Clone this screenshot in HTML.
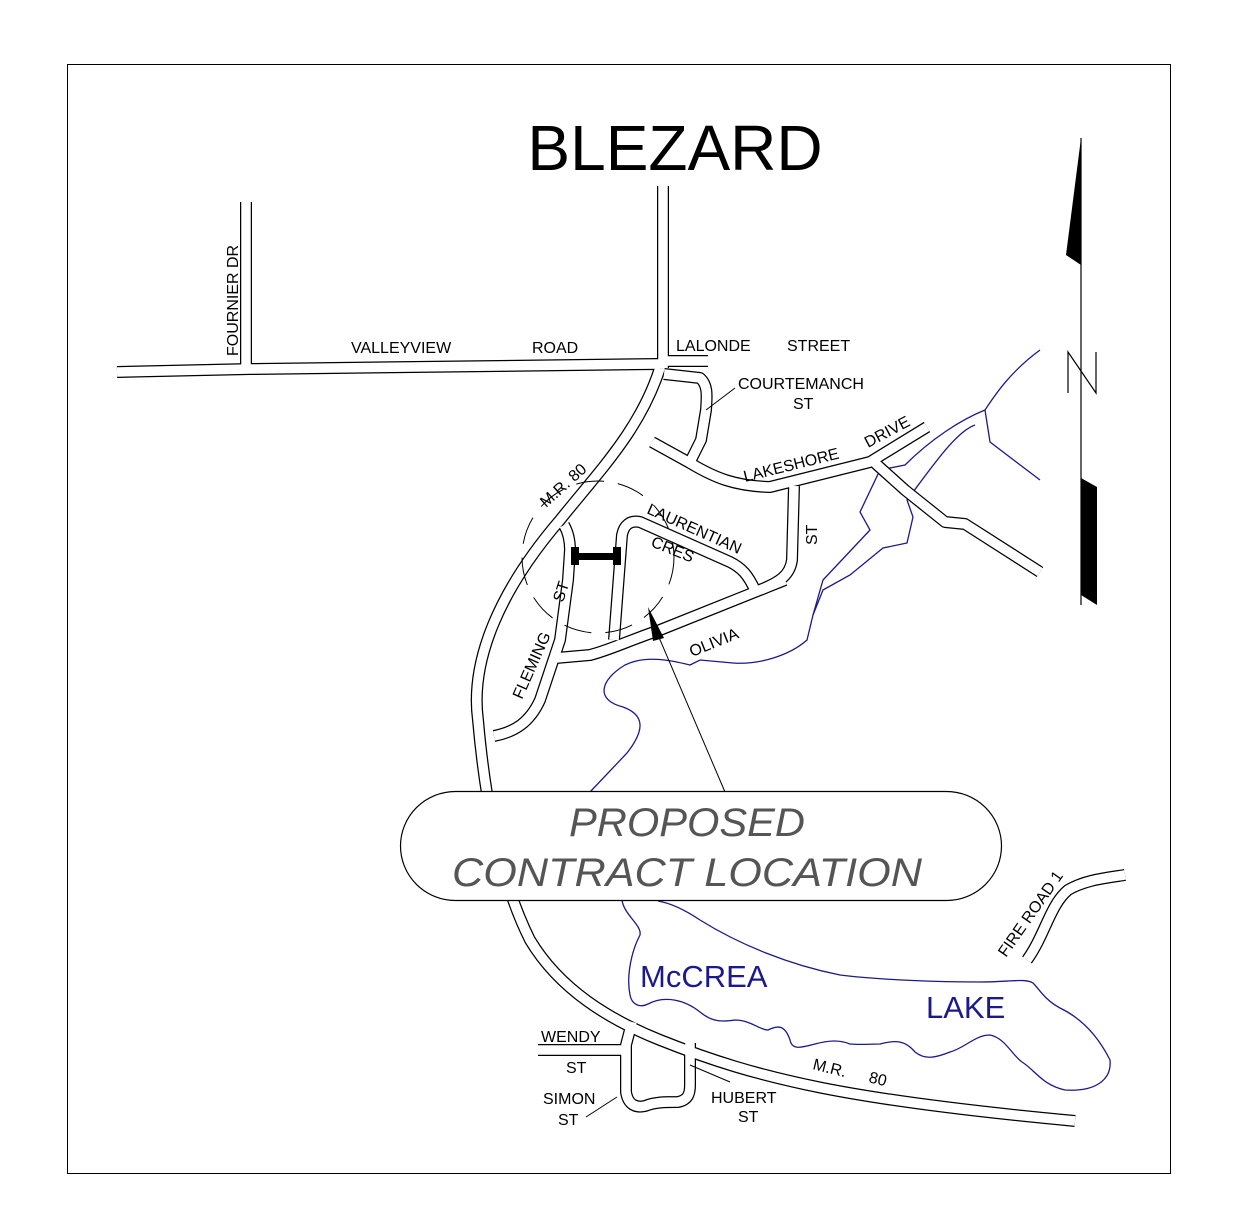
<!DOCTYPE html>
<html><head><meta charset="utf-8"><style>
html,body{margin:0;padding:0;background:#fff}
svg{display:block}
text{font-family:"Liberation Sans",sans-serif;fill:#000}
</style></head><body>
<svg width="1257" height="1225" viewBox="0 0 1257 1225" xmlns="http://www.w3.org/2000/svg">
<rect x="67.5" y="64.5" width="1103" height="1109" fill="none" stroke="#000" stroke-width="1"/>
<text x="675" y="170" font-size="64" text-anchor="middle">BLEZARD</text>

<!-- rivers / lake -->
<g fill="none" stroke="#1a1a8c" stroke-width="1.3">
<path d="M1040,350 C1010,372 995,395 985,410 C960,420 930,440 905,465 L880,470 L860,512 L870,530 L823,580 L813,615 L807,640 C790,655 760,665 733,663 L700,660 L690,665 C670,660 645,655 625,665 C600,680 595,700 623,707 C645,715 645,730 627,753 L590,792"/>
<path d="M985,410 L990,442 L1040,480"/>
<path d="M975,425 C955,432 930,470 907,500 L913,517 L907,543 L883,548 L850,575 L823,590 L813,615"/>
<path d="M622,900 C624,915 642,925 640,935 C632,950 626,975 630,995 C632,1005 640,1008 648,1004 C665,995 685,1000 700,1012 C712,1022 722,1022 735,1020 C750,1020 760,1030 768,1030 C778,1025 785,1025 790,1040 C792,1050 800,1048 815,1044 C830,1040 840,1040 850,1044 C860,1045 870,1044 880,1044 C895,1040 905,1040 915,1052 C925,1060 935,1058 950,1052 C965,1048 975,1035 990,1035 C1005,1038 1012,1055 1022,1062 C1035,1070 1042,1085 1065,1090 C1095,1092 1112,1080 1110,1060 C1100,1040 1085,1020 1060,1008 C1045,1000 1040,990 1033,983 C1025,978 1010,982 980,982 C940,982 880,980 840,975 C790,965 740,945 700,920 C685,910 670,903 658,901"/>
</g>

<!-- roads: black casing -->
<g fill="none" stroke="#000" stroke-width="12" stroke-linejoin="round">
<path d="M117,372 L250,369 L660,364"/>
<path d="M246,202 L246,368"/>
<path d="M663,186 L663,368"/>
<path d="M663,361 L708,361"/>
<path d="M660,368 C640,430 600,470 560,520 C500,590 470,660 478,720 C485,800 500,880 530,940 C560,990 610,1020 660,1040 C760,1080 850,1100 1075,1121"/>
<path d="M652,442 L690,463 C715,478 735,486 770,487 L870,462 L927,427"/>
<path d="M664,374 L700,378 C708,385 707,395 706,410 L701,440 L690,462"/>
<path d="M875,463 L905,490 L945,522 L965,524 L1040,572"/>
<path d="M794,486 L792,560 C790,575 780,582 760,590"/>
<path d="M556,658 L590,655 C610,650 630,640 660,630 L785,580"/>
<path d="M614,640 L622,535 C624,525 630,520 640,522 L730,562 C742,568 748,575 755,590"/>
<path d="M494,736 C515,732 530,722 540,700 L560,640 L568,580 L570,550 C570,540 568,532 564,525"/>
<path d="M1027,960 C1045,935 1050,905 1068,890 C1085,880 1105,878 1125,875"/>
<path d="M538,1050 L624,1050"/>
<path d="M632,1022 L626,1045 L626,1092 C628,1105 636,1108 645,1106 C655,1102 665,1102 678,1102 C688,1100 690,1094 690,1085 L690,1043"/>
</g>
<g fill="none" stroke="#fff" stroke-width="9.5" stroke-linejoin="round">
<path d="M117,372 L250,369 L660,364"/>
<path d="M246,202 L246,368"/>
<path d="M663,186 L663,368"/>
<path d="M663,361 L708,361"/>
<path d="M660,368 C640,430 600,470 560,520 C500,590 470,660 478,720 C485,800 500,880 530,940 C560,990 610,1020 660,1040 C760,1080 850,1100 1075,1121"/>
<path d="M652,442 L690,463 C715,478 735,486 770,487 L870,462 L927,427"/>
<path d="M664,374 L700,378 C708,385 707,395 706,410 L701,440 L690,462"/>
<path d="M875,463 L905,490 L945,522 L965,524 L1040,572"/>
<path d="M794,486 L792,560 C790,575 780,582 760,590"/>
<path d="M556,658 L590,655 C610,650 630,640 660,630 L785,580"/>
<path d="M614,640 L622,535 C624,525 630,520 640,522 L730,562 C742,568 748,575 755,590"/>
<path d="M494,736 C515,732 530,722 540,700 L560,640 L568,580 L570,550 C570,540 568,532 564,525"/>
<path d="M1027,960 C1045,935 1050,905 1068,890 C1085,880 1105,878 1125,875"/>
<path d="M538,1050 L624,1050"/>
<path d="M632,1022 L626,1045 L626,1092 C628,1105 636,1108 645,1106 C655,1102 665,1102 678,1102 C688,1100 690,1094 690,1085 L690,1043"/>
</g>

<!-- contract bar -->
<rect x="574" y="553" width="47" height="7" fill="#000"/>
<rect x="571" y="547" width="8" height="18" fill="#000"/>
<rect x="613" y="547" width="8" height="18" fill="#000"/>

<!-- dashed circle -->
<circle cx="598" cy="557" r="76" fill="none" stroke="#000" stroke-width="1" stroke-dasharray="28,14"/>

<!-- leaders -->
<g stroke="#000" stroke-width="1" fill="none">
<line x1="706" y1="410" x2="735" y2="388"/>
<line x1="690" y1="1065" x2="730" y2="1082"/>
<line x1="617" y1="1097" x2="586" y2="1117"/>
<line x1="725" y1="792" x2="655" y2="628"/>
</g>
<polygon points="648,607 664,638 653,641" fill="#000"/>

<!-- callout -->
<rect x="400.5" y="791.5" width="601" height="109" rx="55" fill="#fff" stroke="#000" stroke-width="1.2"/>
<text x="687" y="836" font-size="40" font-style="italic" text-anchor="middle" textLength="236" lengthAdjust="spacingAndGlyphs" style="fill:#555">PROPOSED</text>
<text x="687" y="886" font-size="40" font-style="italic" text-anchor="middle" textLength="470" lengthAdjust="spacingAndGlyphs" style="fill:#555">CONTRACT LOCATION</text>

<!-- north arrow -->
<line x1="1081" y1="138" x2="1081" y2="605" stroke="#000" stroke-width="1.2"/>
<polygon points="1081,138 1066,255 1081,265" fill="#000"/>
<polygon points="1081,478 1097,487 1097,605 1081,595" fill="#000"/>
<path d="M1068,393 L1068,352 L1096,393 L1096,352" fill="none" stroke="#000" stroke-width="1.2"/>

<!-- labels -->
<g font-size="16">
<text x="238" y="356" transform="rotate(-90 238 356)">FOURNIER  DR</text>
<text x="351" y="353">VALLEYVIEW</text>
<text x="532" y="353">ROAD</text>
<text x="676" y="351">LALONDE</text>
<text x="787" y="351">STREET</text>
<text x="738" y="389">COURTEMANCH</text>
<text x="793" y="409">ST</text>
<text x="0" y="0" transform="translate(745,482) rotate(-14)">LAKESHORE</text>
<text x="0" y="0" transform="translate(868,448) rotate(-28)">DRIVE</text>
<text x="0" y="0" transform="translate(546,508) rotate(-42)">M.R.  80</text>
<text x="0" y="0" transform="translate(646,513) rotate(24)">LAURENTIAN</text>
<text x="0" y="0" transform="translate(650,546) rotate(22)">CRES</text>
<text x="0" y="0" transform="translate(817,545) rotate(-90)">ST</text>
<text x="0" y="0" transform="translate(692,657) rotate(-22)">OLIVIA</text>
<text x="0" y="0" transform="translate(522,700) rotate(-66)">FLEMING</text>
<text x="0" y="0" transform="translate(563,603) rotate(-72)">ST</text>
<text x="0" y="0" transform="translate(1006,958) rotate(-55)">FIRE ROAD 1</text>
<text x="541" y="1042">WENDY</text>
<text x="566" y="1073">ST</text>
<text x="543" y="1104">SIMON</text>
<text x="558" y="1125">ST</text>
<text x="711" y="1103">HUBERT</text>
<text x="738" y="1122">ST</text>
<text x="0" y="0" transform="translate(812,1069) rotate(14)">M.R.</text>
<text x="0" y="0" transform="translate(868,1082) rotate(14)">80</text>
</g>
<text x="640" y="987" font-size="31" style="fill:#1a1a8c">McCREA</text>
<text x="926" y="1018" font-size="31" style="fill:#1a1a8c">LAKE</text>
</svg>
</body></html>
